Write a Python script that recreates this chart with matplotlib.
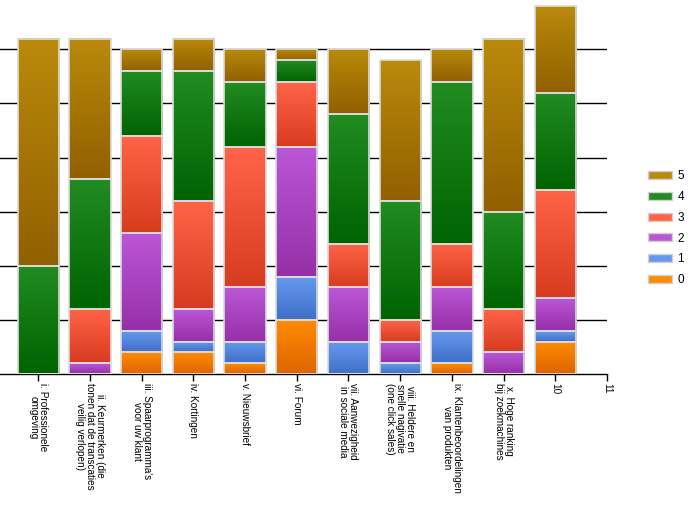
import numpy as np
import matplotlib
matplotlib.use("Agg")
import matplotlib.pyplot as plt
from matplotlib.colors import LinearSegmentedColormap
from matplotlib.patches import Patch

# categorieen (tick labels)
categorieen = [
    "i. Professionele\nomgeving",
    "ii. Keurmerken (die\ntonen dat de transcaties\nveilig verlopen)",
    "iii. Spaarprogramma's\nvoor uw klant",
    "iv. Kortingen",
    "v. Nieuwsbrief",
    "vi. Forum",
    "vii. Aanwezigheid\nin sociale media",
    "viii. Heldere en\nsnelle nagivatie\n(one click sales)",
    "ix. Klantenbeoordelingen\nvan produkten",
    "x. Hoge ranking\nbij zoekmachines",
    "10",
]
extra_tick = "11"

# aantallen per score (0 t/m 5)
score_0 = [0, 0, 2, 2, 1, 5, 0, 0, 1, 0, 3]
score_1 = [0, 0, 2, 1, 2, 4, 3, 1, 3, 0, 1]
score_2 = [0, 1, 9, 3, 5, 12, 5, 2, 4, 2, 3]
score_3 = [0, 5, 9, 10, 13, 6, 4, 2, 4, 4, 10]
score_4 = [10, 12, 6, 12, 6, 2, 12, 11, 15, 9, 9]
score_5 = [21, 13, 2, 3, 3, 1, 6, 13, 3, 16, 8]
reeksen = ["0", "1", "2", "3", "4", "5"]

# kleuren: (boven, onder) voor de verloop
kleuren = {
    "0": ("#ff8c00", "#dd6500"),
    "1": ("#6699ee", "#4070c8"),
    "2": ("#bb57d6", "#9530a8"),
    "3": ("#ff6449", "#d83c20"),
    "4": ("#228b22", "#006400"),
    "5": ("#b98a0b", "#926000"),
}

fig = plt.figure(figsize=(6.89, 5.15), dpi=100)
ax = fig.add_axes([0.0, 1 - 374 / 515, 607 / 689, 374 / 515])

x = np.arange(len(categorieen))
bodem = np.zeros(len(categorieen))
verloop = np.linspace(1, 0, 64).reshape(-1, 1)
for naam, waarden in zip(reeksen, [score_0, score_1, score_2, score_3, score_4, score_5]):
    boven, onder = kleuren[naam]
    cmap = LinearSegmentedColormap.from_list("g" + naam, [onder, boven])
    bars = ax.bar(x, waarden, width=0.8, bottom=bodem, facecolor="none",
                  edgecolor="#dcdcdc", linewidth=1.2, zorder=4)
    for p in bars.patches:
        if p.get_height() <= 0:
            continue
        x0, y0 = p.get_x(), p.get_y()
        ax.imshow(verloop, cmap=cmap, aspect="auto", zorder=3,
                  extent=[x0, x0 + p.get_width(), y0, y0 + p.get_height()],
                  interpolation="bilinear")
    bodem += np.array(waarden)

# rasterlijnen
for g in range(5, 35, 5):
    ax.axhline(g, color="black", linewidth=1, zorder=1)

ax.set_xlim(-0.74, 11)
ax.set_ylim(0, 34.56)
for s in ["left", "right", "top"]:
    ax.spines[s].set_visible(False)
ax.spines["bottom"].set_linewidth(1)
ax.set_yticks([])
ax.set_xticks(list(x) + [11])
ax.set_xticklabels(categorieen + [extra_tick], rotation=-90, ha="center", va="top",
                   fontsize=7.2, family="Liberation Sans", linespacing=1.0)
ax.tick_params(axis="x", length=5, width=1, pad=1.5)

handles = [Patch(facecolor=kleuren[n][0], edgecolor="#d0d0d0", label=n)
           for n in reversed(reeksen)]
fig.legend(handles=handles, loc="upper left", bbox_to_anchor=(648 / 689, 1 - 170 / 515),
           frameon=False, borderpad=0, borderaxespad=0, handlelength=2.0,
           handleheight=0.65, labelspacing=0.75,
           prop={"family": "Liberation Sans", "size": 8.5}, handletextpad=0.5)

fig.savefig("out.png", dpi=100)
